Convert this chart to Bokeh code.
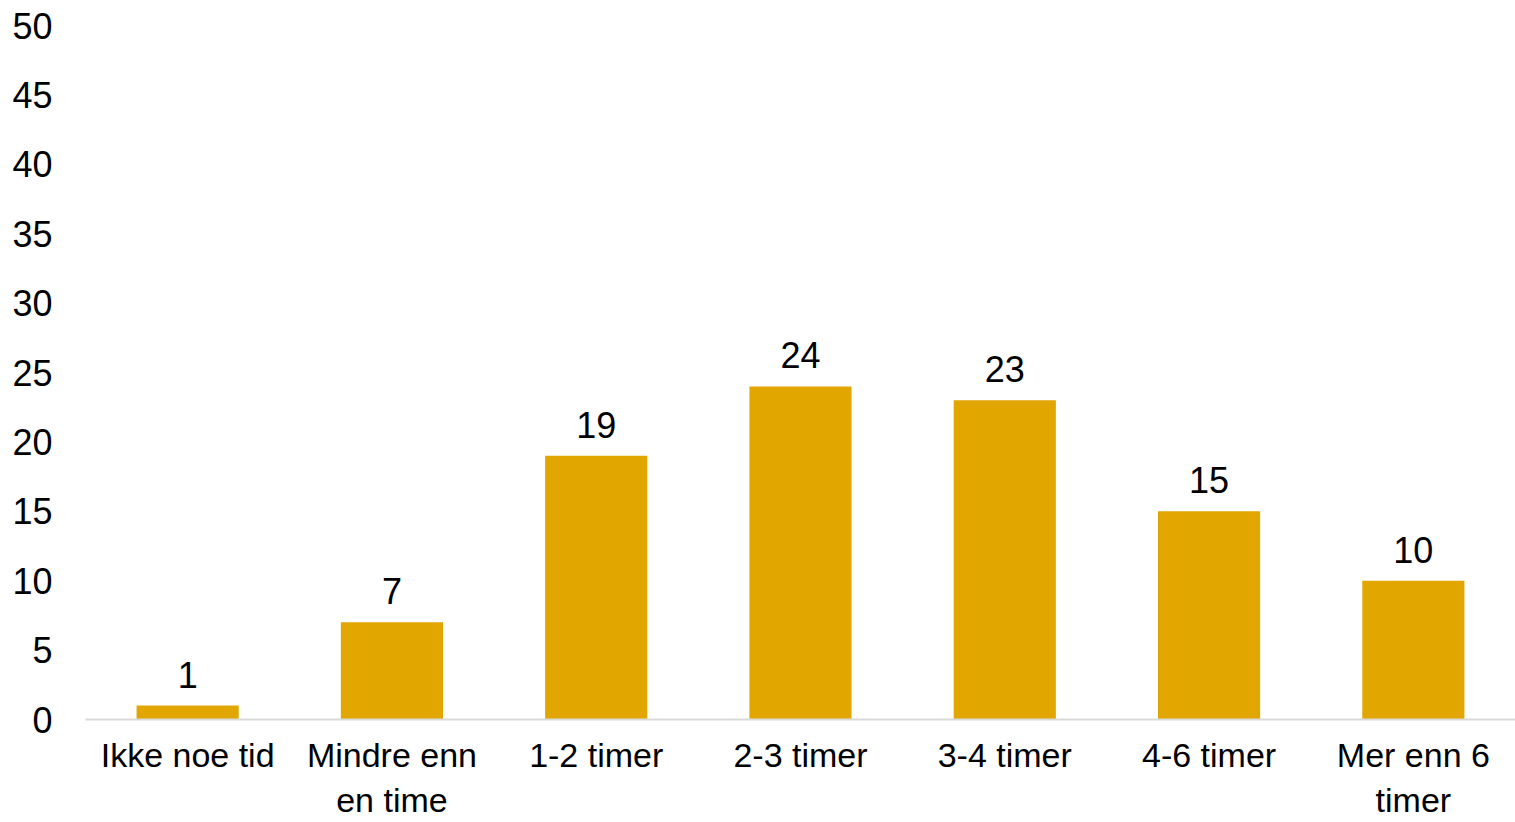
from bokeh.plotting import figure
from bokeh.models import ColumnDataSource, LabelSet, FactorRange, Range1d, FixedTicker
from bokeh.core.properties import value
from bokeh.embed import file_html
from bokeh.resources import INLINE

categories = ["Ikke noe tid", "Mindre enn\nen time", "1-2 timer", "2-3 timer",
              "3-4 timer", "4-6 timer", "Mer enn 6\ntimer"]
values = [1, 7, 19, 24, 23, 15, 10]
y_ticks = [0, 5, 10, 15, 20, 25, 30, 35, 40, 45, 50]

FONT = "Liberation Sans"
source = ColumnDataSource(data=dict(cat=categories, val=values,
                                    lab=[str(v) for v in values]))

p = figure(x_range=FactorRange(*categories, range_padding=0),
           y_range=Range1d(0, 50),
           frame_width=1430, frame_height=694,
           min_border_left=85, min_border_right=0, min_border_top=25, min_border_bottom=100,
           output_backend="svg", toolbar_location=None)

p.vbar(x="cat", top="val", width=0.5, source=source, color="#E2A600", line_color=None)

labels = LabelSet(x="cat", y="val", text="lab", source=source,
                  text_align="center", text_baseline="alphabetic", y_offset=18,
                  text_font=value(FONT), text_font_size="36px", text_color="#000000")
p.add_layout(labels)

p.outline_line_color = None
p.xgrid.grid_line_color = None
p.ygrid.grid_line_color = None
p.background_fill_color = "white"
p.border_fill_color = "white"

p.yaxis.ticker = FixedTicker(ticks=y_ticks)
p.yaxis.axis_line_color = None
p.yaxis.major_tick_line_color = None
p.yaxis.minor_tick_line_color = None
p.yaxis.major_label_standoff = 27
p.yaxis.major_label_text_font = FONT
p.yaxis.major_label_text_font_size = "36px"
p.yaxis.major_label_text_color = "#000000"

p.xaxis.axis_line_color = "#D9D9D9"
p.xaxis.axis_line_width = 2
p.xaxis.major_tick_line_color = None
p.xaxis.minor_tick_line_color = None
p.xaxis.major_label_standoff = 10
p.xaxis.major_label_text_font = FONT
p.xaxis.major_label_text_font_size = "34px"
p.xaxis.major_label_text_color = "#000000"

open("out.html", "w").write(file_html(p, INLINE))
